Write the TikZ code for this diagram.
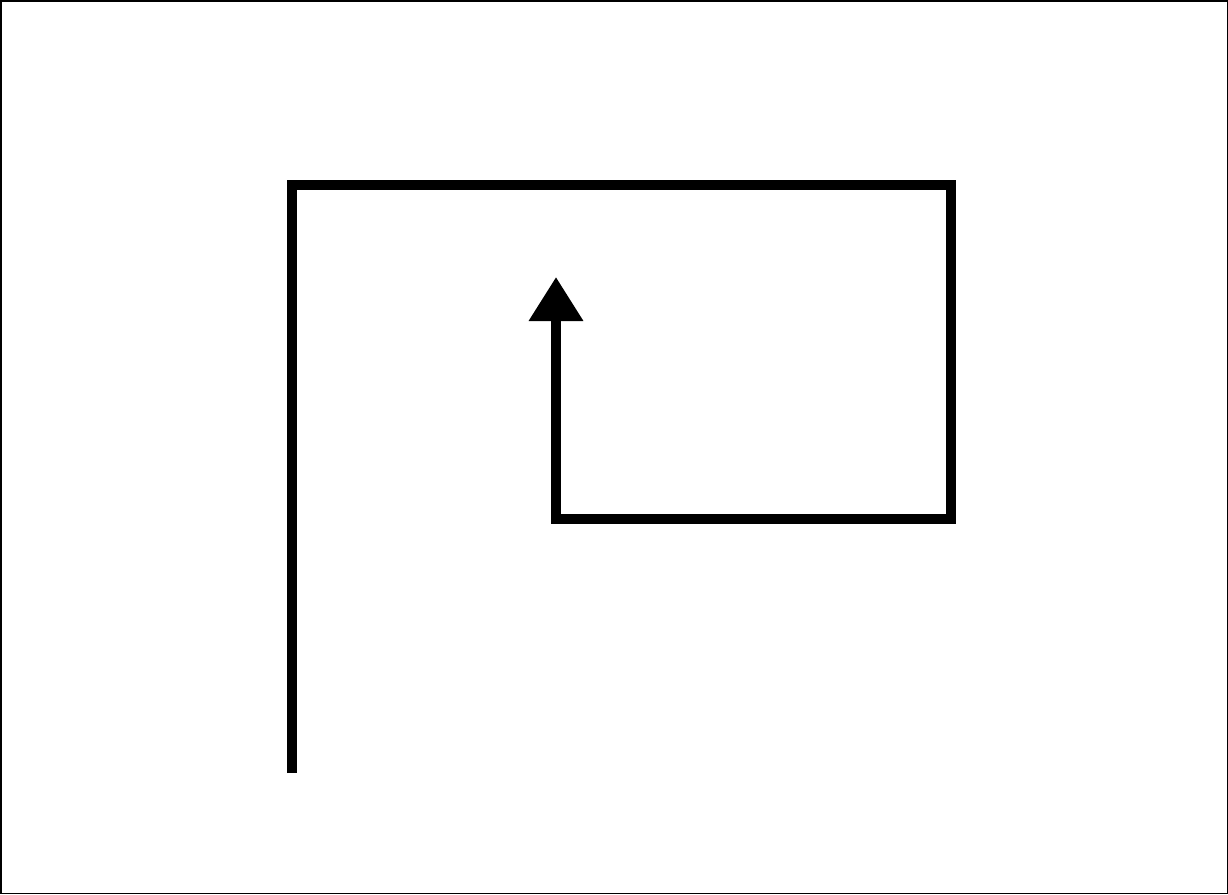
\documentclass[tikz,border=0pt]{standalone}
\usetikzlibrary{arrows.meta}
\begin{document}
\begin{tikzpicture}[x=1pt,y=-1pt,
  frame/.style={draw=black,line width=1.5pt},
  flow/.style={draw=black,line width=10pt,line join=miter,line cap=butt},
  flowarrow/.style={flow,-{Triangle[length=44pt,width=52pt]}}]
\useasboundingbox (0,0) rectangle (1228,894);
\draw[frame] (0.75,0.75) rectangle (1227.25,893.25);
\coordinate (start) at (292,773);
\coordinate (kink) at (292,505);
\coordinate (tl) at (292,185);
\coordinate (tr) at (951,185);
\coordinate (br) at (951,519);
\coordinate (bl) at (556,519);
\coordinate (tip) at (556,277);
\draw[flowarrow] (start) -- (kink) -- (tl) -- (tr) -- (br) -- (bl) -- (tip);
\end{tikzpicture}
\end{document}
